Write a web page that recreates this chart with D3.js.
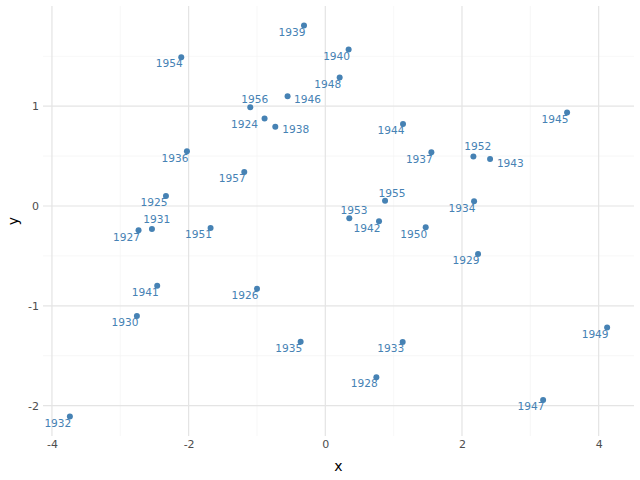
<!DOCTYPE html>
<html>
<head>
<meta charset="utf-8">
<script src="https://cdn.jsdelivr.net/npm/d3@7"></script>
<style>
  body { margin: 0; background: #fff; }
  svg { font-family: "DejaVu Sans", sans-serif; }
</style>
</head>
<body>
<svg id="chart" width="640" height="480"></svg>
<script>
// one label per year, point coordinates
const years = [1924, 1925, 1926, 1927, 1928, 1929, 1930, 1931, 1932, 1933, 1934, 1935,
               1936, 1937, 1938, 1939, 1940, 1941, 1942, 1943, 1944, 1945, 1946, 1947,
               1948, 1949, 1950, 1951, 1952, 1953, 1954, 1955, 1956, 1957];
const xVals = [-0.889, -2.332, -1.000, -2.733, 0.747, 2.235, -2.757, -2.537, -3.738, 1.132, 2.177, -0.361,
               -2.025, 1.552, -0.732, -0.312, 0.341, -2.460, 0.786, 2.411, 1.137, 3.538, -0.552, 3.187,
               0.210, 4.124, 1.469, -1.679, 2.167, 0.351, -2.108, 0.874, -1.098, -1.186];
const yVals = [0.876, 0.100, -0.829, -0.244, -1.715, -0.481, -1.103, -0.231, -2.109, -1.364, 0.047, -1.361,
               0.549, 0.538, 0.795, 1.808, 1.568, -0.799, -0.154, 0.470, 0.822, 0.936, 1.100, -1.943,
               1.287, -1.217, -0.214, -0.221, 0.495, -0.124, 1.491, 0.053, 0.990, 0.341];
const xTicks = [-4, -2, 0, 2, 4];
const yTicks = [-2, -1, 0, 1];

const data = years.map((yr, i) => ({ year: yr, x: xVals[i], y: yVals[i] }));

const svg = d3.select('#chart');
const margin = { top: 6, right: 6, bottom: 44, left: 43 };
const W = 640, H = 480;
const colour = '#4682b4';

// ggplot-like 5% expansion
function expand(ext) {
    const pad = (ext[1] - ext[0]) * 0.05;
    return [ext[0] - pad, ext[1] + pad];
}

const x = d3.scaleLinear()
    .domain(expand(d3.extent(xVals)))
    .range([margin.left, W - margin.right]);
const y = d3.scaleLinear()
    .domain(expand(d3.extent(yVals)))
    .range([H - margin.bottom, margin.top]);

// minor grid
const xMinor = xTicks.slice(0, -1).map((t, i) => (t + xTicks[i + 1]) / 2);
const yMinor = [-1.5, -0.5, 0.5, 1.5];
const grid = svg.append('g');
grid.selectAll('.xminor').data(xMinor).enter().append('line')
    .attr('x1', d => x(d)).attr('x2', d => x(d))
    .attr('y1', margin.top).attr('y2', H - margin.bottom)
    .attr('stroke', '#f3f3f3').attr('stroke-width', 0.7);
grid.selectAll('.yminor').data(yMinor).enter().append('line')
    .attr('y1', d => y(d)).attr('y2', d => y(d))
    .attr('x1', margin.left).attr('x2', W - margin.right)
    .attr('stroke', '#f3f3f3').attr('stroke-width', 0.7);

// major grid
grid.selectAll('.xmajor').data(xTicks).enter().append('line')
    .attr('x1', d => x(d)).attr('x2', d => x(d))
    .attr('y1', margin.top).attr('y2', H - margin.bottom)
    .attr('stroke', '#e4e4e4').attr('stroke-width', 1.2);
grid.selectAll('.ymajor').data(yTicks).enter().append('line')
    .attr('y1', d => y(d)).attr('y2', d => y(d))
    .attr('x1', margin.left).attr('x2', W - margin.right)
    .attr('stroke', '#e4e4e4').attr('stroke-width', 1.2);

// axes (labels only, no lines / tick marks)
const xAxis = svg.append('g')
    .attr('transform', `translate(0,${H - margin.bottom})`)
    .call(d3.axisBottom(x).tickValues(xTicks).tickSize(0).tickPadding(4).tickFormat(d3.format('d')));
const yAxis = svg.append('g')
    .attr('transform', `translate(${margin.left},0)`)
    .call(d3.axisLeft(y).tickValues(yTicks).tickSize(0).tickPadding(4).tickFormat(d3.format('d')));
[xAxis, yAxis].forEach(a => {
    a.select('.domain').remove();
    a.selectAll('text')
        .attr('fill', '#4d4d4d')
        .attr('font-size', '11px')
        .attr('font-family', '"DejaVu Sans", sans-serif')
        .text(d => d < 0 ? '-' + Math.abs(d) : d);
});

svg.append('text')
    .attr('x', (margin.left + W - margin.right) / 2)
    .attr('y', 471)
    .attr('text-anchor', 'middle')
    .attr('font-size', '14px')
    .attr('fill', '#000')
    .text('x');
svg.append('text')
    .attr('transform', `translate(18,${(margin.top + H - margin.bottom) / 2}) rotate(-90)`)
    .attr('text-anchor', 'middle')
    .attr('font-size', '14px')
    .attr('fill', '#000')
    .text('y');

// points
svg.append('g').selectAll('circle')
    .data(data).enter().append('circle')
    .attr('cx', d => x(d.x))
    .attr('cy', d => y(d.y))
    .attr('r', 3)
    .attr('fill', colour);

// labels: most sit below-left of their point, a few got pushed elsewhere
const defaultNudge = [-12, 6.5];
const nudges = {
    1956: [4.5, -8.3], 1946: [20, 2.7], 1924: [-20, 5.3], 1938: [20.5, 3],
    1952: [4.3, -10.7], 1943: [20.3, 4], 1931: [4.8, -10], 1955: [7, -7.7],
    1953: [4.7, -8.3]
};
svg.append('g').selectAll('text')
    .data(data).enter().append('text')
    .attr('x', d => x(d.x) + (nudges[d.year] || defaultNudge)[0])
    .attr('y', d => y(d.y) + (nudges[d.year] || defaultNudge)[1])
    .attr('dy', '0.36em')
    .attr('text-anchor', 'middle')
    .attr('font-size', '10.6px')
    .attr('fill', colour)
    .text(d => d.year);
</script>
</body>
</html>
